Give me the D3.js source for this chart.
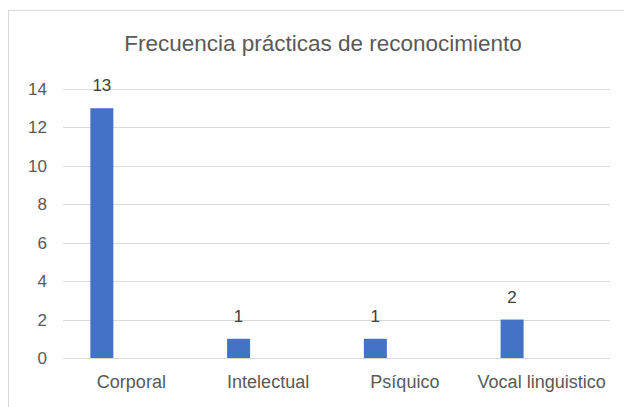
<!DOCTYPE html>
<html>
<head>
<meta charset="utf-8">
<script src="https://cdn.jsdelivr.net/npm/d3@7"></script>
<style>
  body { margin: 0; background: #fff; }
  svg { display: block; }
</style>
</head>
<body>
<svg width="624" height="407"></svg>
<script>
// datos del gráfico
const categorias = ["Corporal", "Intelectual", "Psíquico", "Vocal linguistico"];
const valores = [13, 1, 1, 2];
const ticksY = [0, 2, 4, 6, 8, 10, 12, 14];
const titulo = "Frecuencia prácticas de reconocimiento";

const svg = d3.select("svg");
const fuente = "'Liberation Sans', Arial, sans-serif";

// marco del gráfico
svg.append("rect")
    .attr("x", 8.5).attr("y", 10.5)
    .attr("width", 640).attr("height", 420)
    .style("fill", "none")
    .style("stroke", "#d9d9d9");

let area = { left: 63, right: 610, top: 89, bottom: 358 };

let scX = d3.scaleBand()
    .domain(categorias)
    .range([area.left, area.right]);

let scY = d3.scaleLinear()
    .domain([0, 14])
    .range([area.bottom, area.top]);

// líneas de cuadrícula
svg.append("g")
    .selectAll("line")
    .data(ticksY)
    .enter()
    .append("line")
    .attr("x1", area.left).attr("x2", area.right)
    .attr("y1", d => Math.round(scY(d)) + 0.5)
    .attr("y2", d => Math.round(scY(d)) + 0.5)
    .style("stroke", "#d9d9d9")
    .style("stroke-width", 1);

// eje Y (solo etiquetas)
let ejeY = d3.axisLeft(scY).tickValues(ticksY).tickSize(0).tickPadding(16);
let gY = svg.append("g")
    .attr("transform", `translate(${area.left}, 0)`)
    .call(ejeY);
gY.select(".domain").remove();
gY.selectAll("text")
    .style("font-family", fuente)
    .style("font-size", "17px")
    .style("fill", "#595959");

// eje X (solo etiquetas)
let ejeX = d3.axisBottom(scX).tickSize(0).tickPadding(17);
let gX = svg.append("g")
    .attr("transform", `translate(0, ${area.bottom})`)
    .call(ejeX);
gX.select(".domain").remove();
gX.selectAll("text")
    .style("font-family", fuente)
    .style("font-size", "18px")
    .style("fill", "#595959");

// barras (desplazadas a la izquierda dentro de cada categoría)
const anchoBarra = 23;
const desplaz = scX.bandwidth() * 0.2;

svg.selectAll(".bar")
    .data(valores)
    .enter()
    .append("rect")
    .attr("x", (d, i) => scX(categorias[i]) + desplaz)
    .attr("y", d => scY(d))
    .attr("width", anchoBarra)
    .attr("height", d => scY(0) - scY(d))
    .style("fill", "#4472c4");

// etiquetas de valor
svg.selectAll(".etiqueta")
    .data(valores)
    .enter()
    .append("text")
    .attr("x", (d, i) => scX(categorias[i]) + desplaz + anchoBarra / 2)
    .attr("y", d => scY(d) - 17)
    .attr("text-anchor", "middle")
    .style("font-family", fuente)
    .style("font-size", "17px")
    .style("fill", "#404040")
    .text(d => d);

// título
svg.append("text")
    .attr("x", 323)
    .attr("y", 51)
    .attr("text-anchor", "middle")
    .style("font-family", fuente)
    .style("font-size", "22.5px")
    .style("fill", "#595959")
    .text(titulo);
</script>
</body>
</html>
